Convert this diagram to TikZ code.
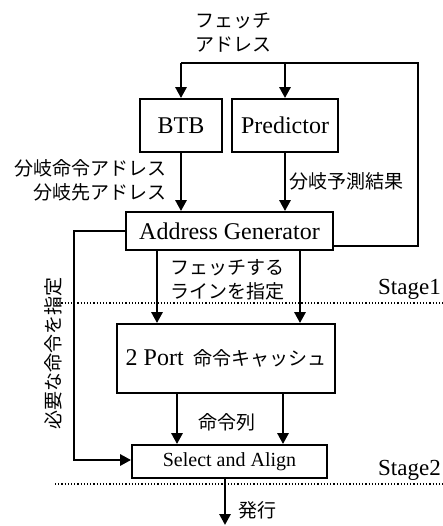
\documentclass[tikz,border=0pt]{standalone}
\usepackage{fontspec}
\setmainfont{Liberation Serif}
\newfontfamily\jp{Noto Sans CJK JP}
\usetikzlibrary{arrows.meta,positioning,calc}

\tikzset{
  unitbox/.style={draw, line width=1.8pt, inner sep=0pt, font=\fontsize{24}{28}\selectfont},
  flow/.style={line width=2.8pt, -{Triangle[length=11pt,width=11pt]}},
  wire/.style={line width=2.8pt},
  stageline/.style={dotted, line width=1.2pt},
  jlabel/.style={font=\jp\fontsize{19}{24}\selectfont, inner sep=0pt},
  stagelabel/.style={font=\fontsize{23}{26}\selectfont, inner sep=1pt, anchor=south east},
}

\begin{document}
\begin{tikzpicture}[x=1pt, y=-1pt]
    \useasboundingbox (0,0) rectangle (443,526);

    % Units
    \node[unitbox, minimum width=82pt, minimum height=53pt] (btb) at (181,125.5) {BTB};
    \node[unitbox, minimum width=106pt, minimum height=53pt] (pred) at (285,125.5) {Predictor};
    \node[unitbox, minimum width=207pt, minimum height=38pt] (agen) at (229.5,231) {Address Generator};
    \node[unitbox, minimum width=218pt, minimum height=69pt] (cache) at (226,358.5)
        {2 Port\hspace{0.4em}{\jp\fontsize{19}{24}\selectfont 命令キャッシュ}};
    \node[unitbox, minimum width=195pt, minimum height=33pt, font=\fontsize{20}{24}\selectfont] (sel) at (229.5,461.5) {Select and Align};

    % Columns and corners
    \coordinate (top) at (233,63);
    \coordinate (loopR) at (418,63);
    \coordinate (sideL) at (74,231);
    \coordinate (ca) at (157,0);
    \coordinate (cb) at (300,0);
    \coordinate (sa) at (177,0);
    \coordinate (sb) at (283,0);
    \coordinate (out) at (225,525);

    % Fetch address loop
    \draw[wire] (top -| btb) -- (top -| loopR) -- (loopR |- 0,246) -- (agen.east |- 0,246);
    \draw[flow] (top -| btb) -- (btb.north);
    \draw[flow] (top -| pred) -- (pred.north);

    % Predictions to generator
    \draw[flow] (btb.south) -- (btb.south |- agen.north);
    \draw[flow] (pred.south) -- (pred.south |- agen.north);

    % Generator to cache
    \draw[flow] (agen.south -| ca) -- (cache.north -| ca);
    \draw[flow] (agen.south -| cb) -- (cache.north -| cb);

    % Cache to select
    \draw[flow] (cache.south -| sa) -- (sel.north -| sa);
    \draw[flow] (cache.south -| sb) -- (sel.north -| sb);

    % Select line
    \draw[flow] (agen.west |- sideL) -- (sideL) -- (sideL |- 0,460) -- (sel.west |- 0,460);

    % Issue
    \draw[flow] (sel.south -| out) -- (out);

    % Stage boundaries
    \draw[stageline] (55,303) -- (443,303);
    \draw[stageline] (55,484) -- (443,484);
    \node[stagelabel] (st1) at (442,301) {Stage1};
    \node[stagelabel] (st2) at (442,482) {Stage2};

    % Labels
    \node[jlabel, align=center] (fetchadr) at (233,33) {フェッチ\\アドレス};
    \node[jlabel, align=right, anchor=east] (btblbl) at (167,180) {分岐命令アドレス\\分岐先アドレス};
    \node[jlabel, anchor=west] (predlbl) at (289,181) {分岐予測結果};
    \node[jlabel, align=center] (linelbl) at (227,280) {フェッチする\\ラインを指定};
    \node[jlabel] (instlbl) at (227,422) {命令列};
    \node[jlabel, anchor=west] (issuelbl) at (238,510) {発行};
    \node[jlabel, rotate=90] (needlbl) at (53,353) {必要な命令を指定};
\end{tikzpicture}
\end{document}
